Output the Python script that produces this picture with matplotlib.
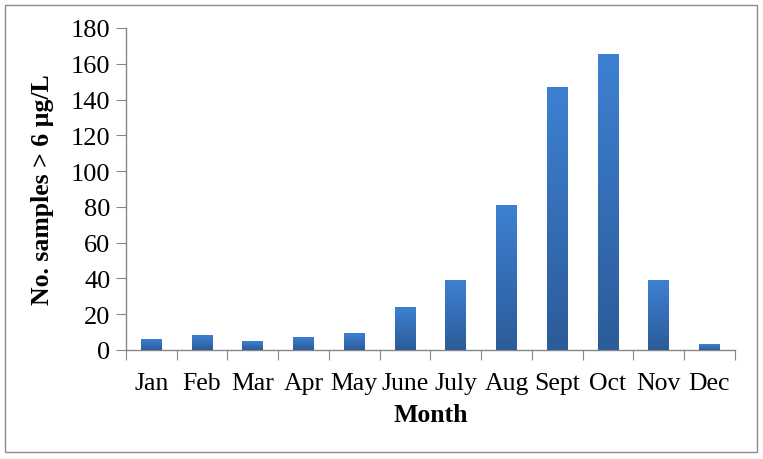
import numpy as np
import matplotlib
matplotlib.use('Agg')
import matplotlib.pyplot as plt
from matplotlib.patches import Rectangle
from matplotlib.colors import LinearSegmentedColormap

months = ['Jan', 'Feb', 'Mar', 'Apr', 'May', 'June', 'July', 'Aug', 'Sept', 'Oct', 'Nov', 'Dec']
counts = [6, 8, 5, 7, 9, 24, 39, 81, 147, 165, 39, 3]
y_ticks = [0, 20, 40, 60, 80, 100, 120, 140, 160, 180]

plt.rcParams['font.family'] = ['Liberation Serif', 'DejaVu Serif']

fig = plt.figure(figsize=(7.63, 4.60), dpi=100)
ax = fig.add_axes([0.165, 0.237, 0.798, 0.700])

# outer frame around the whole chart
fig.patches.append(Rectangle((5 / 763, 7 / 460), 752 / 763, 447 / 460, transform=fig.transFigure,
                             fill=False, edgecolor='#8c8c8c', linewidth=1.0))

x = np.arange(len(months))
bars = ax.bar(x, counts, width=0.41, color='#3470b8', zorder=2)

# vertical gradient on each bar: lighter at top, darker at bottom
cmap = LinearSegmentedColormap.from_list('bar', ['#2c5c99', '#3d80d2'])
grad = np.linspace(0, 1, 100).reshape(-1, 1)
for b in bars:
    x0, y0 = b.get_x(), b.get_y()
    w, h = b.get_width(), b.get_height()
    ax.imshow(grad, extent=[x0, x0 + w, y0, y0 + h], origin='lower', cmap=cmap,
              aspect='auto', zorder=3)
    b.set_visible(False)

ax.set_xlim(-0.5, len(months) - 0.5)
ax.set_ylim(0, 180)
ax.set_yticks(y_ticks)
ax.set_yticklabels([str(v) for v in y_ticks], fontsize=19)

# tick marks between categories, labels centered
ax.set_xticks(np.arange(-0.5, len(months), 1.0))
ax.set_xticklabels([])
ax.set_xticks(x, minor=True)
ax.set_xticklabels(months, minor=True, fontsize=18.5)
ax.tick_params(axis='x', which='minor', length=0, pad=16)
ax.tick_params(axis='x', which='major', length=7, color='#868686', direction='out')
ax.tick_params(axis='y', length=7, color='#868686', direction='out', pad=4)

for s in ['top', 'right']:
    ax.spines[s].set_visible(False)
for s in ['left', 'bottom']:
    ax.spines[s].set_color('#868686')
    ax.spines[s].set_linewidth(1.0)

ax.set_xlabel('Month', fontsize=18.5, fontweight='bold', labelpad=6)
ax.set_ylabel('No. samples > 6 \u00b5g/L', fontsize=18.5, fontweight='bold', labelpad=12)

fig.savefig('out.png', dpi=100)
